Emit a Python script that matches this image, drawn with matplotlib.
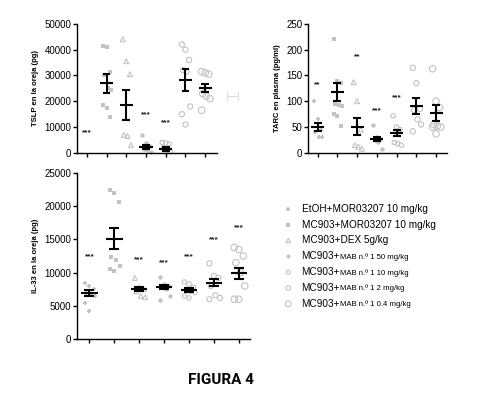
import matplotlib
matplotlib.use("Agg")
import numpy as np
from matplotlib import pyplot as plt
from matplotlib.lines import Line2D

# ---- data ----
groups = ["EtOH+MOR03207 10 mg/kg", "MC903+MOR03207 10 mg/kg", "MC903+DEX 5g/kg",
          "MC903+MAB n.º 1 50 mg/kg", "MC903+MAB n.º 1 10 mg/kg",
          "MC903+MAB n.º 1 2 mg/kg", "MC903+MAB n.º 1 0.4 mg/kg"]

tslp_pts = [[],
            [41500, 41000, 31500, 30000, 25000, 24500, 18500, 17500, 14000],
            [44000, 35500, 30500, 7000, 6500, 3000],
            [7000, 4000, 2500, 1500, 1000, 500],
            [4000, 3800, 3500, 2000, 1000, 500],
            [42000, 40000, 36000, 32000, 31500, 18000, 15000, 11000],
            [31500, 31000, 30500, 23000, 22000, 21000, 16500]]
tslp_mean = [0, 27000, 18500, 2200, 1500, 28200, 25000]
tslp_sem = [0, 3700, 5700, 750, 650, 4200, 1500]
tslp_stars = ["***", "", "", "***", "***", "", ""]
tslp_star_y = [6500, 0, 0, 13500, 10500, 0, 0]

tarc_pts = [[100, 65, 45, 40, 30, 30],
            [220, 140, 135, 95, 92, 90, 75, 72, 52],
            [137, 100, 45, 15, 12, 8],
            [55, 30, 27, 25, 22, 8],
            [72, 50, 45, 20, 18, 15],
            [165, 135, 85, 83, 65, 55, 42],
            [163, 100, 88, 55, 52, 50, 50, 37]]
tarc_mean = [50, 118, 51, 27, 39, 91, 77]
tarc_sem = [7, 18, 17, 4, 6, 15, 15]
tarc_stars = ["**", "", "**", "***", "***", "", ""]
tarc_star_y = [125, 0, 180, 75, 100, 0, 0]

il33_pts = [[8500, 8000, 7500, 7000, 6800, 6500, 5500, 4300],
            [22500, 22000, 20700, 12300, 11900, 11000, 10500, 10200],
            [9200, 7800, 7500, 7200, 6500, 6300],
            [9300, 8300, 8000, 7800, 7500, 6500, 5900],
            [8600, 8300, 7800, 7500, 7200, 7000, 6500, 6200],
            [11400, 9500, 9200, 8000, 6600, 6200, 6000],
            [13800, 13500, 12500, 11500, 10000, 8000, 6000, 6000]]
il33_mean = [6900, 15100, 7600, 7900, 7400, 8500, 9900]
il33_sem = [450, 1600, 300, 300, 300, 500, 800]
il33_stars = ["***", "", "***", "***", "***", "***", "***"]
il33_star_y = [11800, 0, 11400, 10900, 11800, 14400, 16300]

markers = ["P", "s", "^", "h", "H", "o", "o"]
filled = [True, True, False, True, False, False, False]
msizes = [12, 10, 12, 12, 12, 14, 22]
grey = "#c2c2c2"

plt.rcParams['font.family'] = ['Liberation Sans', 'DejaVu Sans']

fig = plt.figure(figsize=(4.78, 4.11), dpi=100)


def draw_pts(ax, xs, vals, i, size_scale=1.0):
    if filled[i]:
        ax.scatter(xs, vals, s=msizes[i] * size_scale, marker=markers[i], color=grey,
                   linewidths=0, zorder=2, clip_on=False)
    else:
        ax.scatter(xs, vals, s=msizes[i] * size_scale, marker=markers[i], facecolors="none",
                   edgecolors=grey, linewidths=0.8, zorder=2, clip_on=False)


def panel(rect, pts, means, sems, stars, star_y, ymax, step, ylabel, xmax):
    ax = fig.add_axes(rect)
    for i, vals in enumerate(pts):
        n = len(vals)
        offs = np.array([((k % 3) - 1) * 0.18 + ((k // 3) % 2) * 0.06 for k in range(n)])
        draw_pts(ax, i + offs, vals, i)
        if means[i] > 0:
            ax.hlines(means[i], i - 0.33, i + 0.33, color="black", lw=1.5, zorder=3)
            ax.vlines(i, means[i] - sems[i], means[i] + sems[i], color="black", lw=1.5, zorder=3)
            for y in (means[i] - sems[i], means[i] + sems[i]):
                ax.hlines(y, i - 0.2, i + 0.2, color="black", lw=1.5, zorder=3)
        if stars[i]:
            ax.text(i, star_y[i], stars[i], ha="center", va="bottom", fontsize=6,
                    fontweight="bold", color="#222222")
    ax.set_xlim(-0.5, xmax)
    ax.set_ylim(0, ymax)
    ax.set_yticks(np.arange(0, ymax + 1, step))
    ax.set_xticks(range(7))
    ax.set_xticklabels([])
    for s in ("top", "right"):
        ax.spines[s].set_visible(False)
    for s in ("left", "bottom"):
        ax.spines[s].set_linewidth(1.0)
    ax.tick_params(axis="both", length=3, width=1.0, labelsize=7, pad=1)
    ax.set_ylabel(ylabel, fontsize=5.5, fontweight="bold", labelpad=4)
    return ax


panel([0.161, 0.628, 0.293, 0.314], tslp_pts, tslp_mean, tslp_sem, tslp_stars,
      tslp_star_y, 50000, 10000, "TSLP en la oreja (pg)", 6.6)
panel([0.644, 0.628, 0.291, 0.314], tarc_pts, tarc_mean, tarc_sem, tarc_stars,
      tarc_star_y, 250, 50, "TARC en plasma (pg/ml)", 6.55)
panel([0.161, 0.175, 0.362, 0.404], il33_pts, il33_mean, il33_sem, il33_stars,
      il33_star_y, 25000, 5000, "IL-33 en la oreja (pg)", 6.45)

# faint cropped bracket right of the TSLP panel
fig.add_artist(Line2D([0.475, 0.498], [0.766, 0.766], color="#dddddd", lw=0.8))
fig.add_artist(Line2D([0.475, 0.475], [0.756, 0.776], color="#dddddd", lw=0.8))
fig.add_artist(Line2D([0.498, 0.498], [0.756, 0.776], color="#dddddd", lw=0.8))

# legend drawn by hand (mixed font sizes in the labels)
lax = fig.add_axes([0.595, 0.245, 0.4, 0.26])
lax.set_xlim(0, 1)
lax.set_ylim(0, 1)
lax.axis("off")
row_y = np.linspace(0.95, 0.06, 7)
for i, name in enumerate(groups):
    draw_pts(lax, [0.02], [row_y[i]], i, size_scale=0.8)
    if "MAB" in name:
        t = lax.text(0.09, row_y[i], "MC903+", fontsize=7.2, va="center", ha="left")
        lax.annotate(name.replace("MC903+", ""), xy=(1, 0.45), xycoords=t,
                     fontsize=5.6, va="center", ha="left")
    else:
        lax.text(0.09, row_y[i], name, fontsize=7.2, va="center", ha="left")

fig.text(0.462, 0.075, "FIGURA 4", fontsize=11, fontweight="bold", ha="center", va="center",
         family=["Roboto", "DejaVu Sans"])

fig.savefig("out.png", dpi=100)
